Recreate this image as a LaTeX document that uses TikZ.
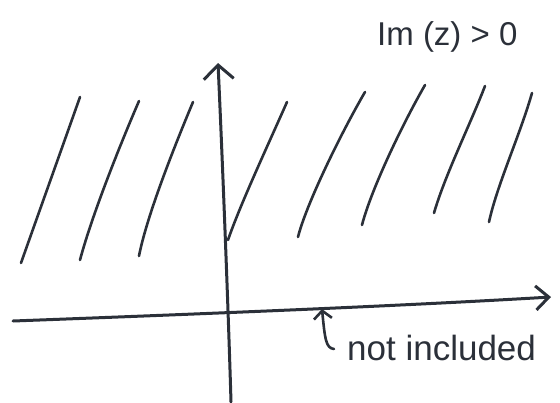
\documentclass[tikz,border=0pt]{standalone}
\usepackage{fontspec}
\setmainfont{Liberation Sans}
\usetikzlibrary{arrows.meta}
\definecolor{ink}{HTML}{2B3039}
\begin{document}
\begin{tikzpicture}[x=1pt,y=-1pt,
  pen/.style={draw=ink,line width=3pt,line cap=round,line join=round},
  hatch/.style={pen,line width=2.6pt},
  label/.style={text=ink,inner sep=0pt,font=\fontsize{35}{40}\selectfont}]
\useasboundingbox (0,0) rectangle (560,402);
% axes
\coordinate (xl) at (13,321);
\coordinate (xr) at (551,297);
\coordinate (yb) at (231,402);
\coordinate (yt) at (218,63);
\draw[pen,-{Straight Barb[length=13pt,width=24pt,line width=3pt]}] (xl) .. controls (200,314) and (400,306) .. (xr);
\draw[pen,-{Straight Barb[length=14pt,width=30pt,line width=3pt]}] (yb) .. controls (228,300) and (222,150) .. (yt);
% hatching
\draw[hatch] (21,263) .. controls (38,215) and (63,145) .. (80,97);
\draw[hatch] (80,260) .. controls (92,215) and (120,145) .. (139,101);
\draw[hatch] (139,256) .. controls (147,215) and (175,145) .. (193,102);
\draw[hatch] (228,240) .. controls (240,205) and (268,145) .. (287,102);
\draw[hatch] (298,237) .. controls (306,205) and (340,135) .. (365,92);
\draw[hatch] (362,225) .. controls (371,190) and (402,125) .. (425,85);
\draw[hatch] (434,213) .. controls (445,175) and (470,125) .. (485,86);
\draw[hatch] (489,222) .. controls (497,185) and (520,135) .. (532,93);
% labels
\node[label,font=\fontsize{33}{38}\selectfont,anchor=base west] (im) at (377,45) {Im (z) > 0};
\node[label,anchor=base west] (ni) at (347,360) {not included};
% pointer
\coordinate (hk) at (334,349);
\coordinate (pt) at (322,309);
\draw[pen,line width=2.6pt,-{Straight Barb[length=8pt,width=18pt,line width=2.6pt]}] (hk) .. controls (326,348) and (325,340) .. (pt);
\end{tikzpicture}
\end{document}
